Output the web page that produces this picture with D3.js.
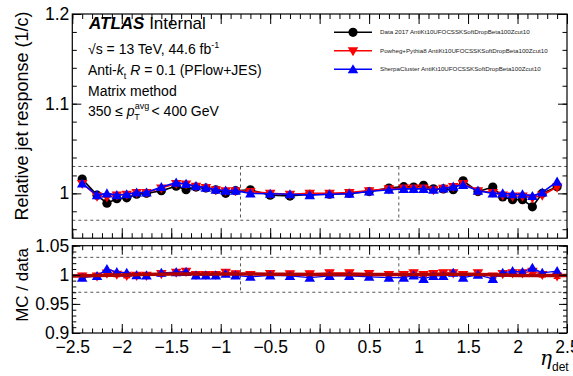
<!DOCTYPE html>
<html>
<head>
<meta charset="utf-8">
<script src="https://cdn.jsdelivr.net/npm/d3@7"></script>
<style>
  body { margin: 0; background: #fff; }
  svg { display: block; font-family: "Liberation Sans", Arial, sans-serif; }
</style>
</head>
<body>
<div id="chart"></div>
<script>
// eta bin centres
const etaBins = [-2.4, -2.25, -2.15, -2.05, -1.95, -1.85, -1.75, -1.6, -1.45, -1.35, -1.25, -1.15, -1.05, -0.95, -0.85, -0.7, -0.5, -0.3, -0.1,
  0.1, 0.3, 0.5, 0.7, 0.85, 0.95, 1.05, 1.15, 1.25, 1.35, 1.45, 1.6, 1.75, 1.85, 1.95, 2.05, 2.15, 2.25, 2.4];

// relative response 1/c
const dataResp = [1.016, 0.998, 0.989, 0.994, 0.995, 0.999, 1.000, 1.003, 1.008, 1.004, 1.007, 1.006, 1.004, 1.000, 1.003, 1.004, 0.998, 0.997, 0.999,
  0.999, 1.000, 1.002, 1.006, 1.0075, 1.007, 1.009, 1.005, 1.005, 1.004, 1.014, 1.002, 1.007, 0.996, 0.993, 0.993, 0.985, 1.000, 1.0075];
const powhegResp = [1.011, 0.997, 0.996, 0.998, 0.999, 1.001, 1.001, 1.006, 1.011, 1.0105, 1.008, 1.0065, 1.004, 1.003, 1.003, 1.002, 1.000, 0.999, 1.000,
  1.000, 1.001, 1.003, 1.005, 1.006, 1.006, 1.006, 1.004, 1.0057, 1.0075, 1.011, 1.003, 1.001, 0.998, 0.997, 0.997, 0.995, 0.998, 1.007];
const sherpaResp = [1.011, 0.998, 1.000, 0.998, 0.999, 1.001, 1.001, 1.007, 1.012, 1.0105, 1.008, 1.0064, 1.004, 1.003, 1.003, 1.000, 0.9995, 0.999, 0.998,
  0.999, 0.9995, 1.002, 1.004, 1.005, 1.005, 1.005, 1.004, 1.0055, 1.0075, 1.0095, 1.003, 1.000, 1.000, 0.999, 0.999, 0.997, 1.001, 1.013];

// MC / data
const powhegRatio = [0.998, 0.998, 1.003, 1.001, 0.999, 0.999, 0.999, 1.002, 1.0045, 1.006, 1.0005, 1.0005, 1.0005, 1.0045, 1.0017, 1.0005, 1.002, 1.0017, 1.0017,
  1.0034, 1.0034, 1.002, 1.0005, 1.0005, 1.0034, 1.0005, 1.002, 1.0034, 1.0034, 1.0005, 1.0034, 0.998, 1.002, 1.0034, 1.0034, 1.006, 1.0005, 0.998];
const powhegRatioErr = 0.004;
const sherpaRatio = [0.995, 0.998, 1.010, 1.0045, 1.0034, 0.9995, 0.999, 1.0034, 1.0045, 1.005, 0.999, 0.999, 0.999, 1.0017, 0.999, 0.9966, 0.999, 0.998, 0.995,
  0.998, 0.998, 0.9966, 0.995, 0.995, 0.999, 0.993, 0.998, 0.998, 1.0034, 0.995, 1.000, 0.993, 1.0034, 1.0063, 1.0045, 1.012, 1.0034, 1.0063];

// smooth fit drawn in the ratio pad
const fitEta = [-2.5, -2, -1.5, -1, -0.5, 0, 0.5, 1, 1.5, 2, 2.5];
const fitRatio = [0.998, 0.9995, 1.0015, 1.0015, 1.001, 1.0005, 1.0005, 1.0005, 1.001, 0.999, 0.999];

const xTicks = [-2.5, -2, -1.5, -1, -0.5, 0, 0.5, 1, 1.5, 2, 2.5];
const mainYTicks = [1, 1.1, 1.2];
const ratioYTicks = [0.9, 0.95, 1, 1.05];

const legendLabels = [
  'Data 2017 AntiKt10UFOCSSKSoftDropBeta100Zcut10',
  'Powheg+Pythia8 AntiKt10UFOCSSKSoftDropBeta100Zcut10',
  'SherpaCluster AntiKt10UFOCSSKSoftDropBeta100Zcut10'
];

const W = 573, H = 376;
const left = 72.3, right = 567;
const svg = d3.select('#chart').append('svg').attr('width', W).attr('height', H);

const x = d3.scaleLinear().domain([-2.5, 2.5]).range([left, right]);
const yMain = d3.scaleLinear().domain([0.95, 1.2]).range([238.2, 14]);
const yRatio = d3.scaleLinear().domain([0.9, 1.05]).range([333, 245.7]);

const fmt = d => (d < 0 ? '\u2212' : '') + Math.abs(d);
const range = (a, b, s) => d3.range(Math.round((b - a) / s) + 1).map(i => +(a + i * s).toFixed(4));

function frame(y, yMajor, yMinor, xMajLen, xMinLen, yMajLen, yMinLen, showX) {
  const [y0, y1] = y.range();
  const g = svg.append('g');
  // bottom + top x ticks (inward)
  const xMinor = range(-2.5, 2.5, 0.1);
  g.append('g').attr('transform', `translate(0,${y0})`)
    .call(d3.axisBottom(x).tickValues(xMinor).tickSize(-xMinLen).tickFormat(''));
  g.append('g').attr('transform', `translate(0,${y0})`)
    .call(d3.axisBottom(x).tickValues(xTicks).tickSize(-xMajLen).tickPadding(8).tickFormat(showX ? fmt : ''));
  g.append('g').attr('transform', `translate(0,${y1})`)
    .call(d3.axisTop(x).tickValues(xMinor).tickSize(-xMinLen).tickFormat(''));
  g.append('g').attr('transform', `translate(0,${y1})`)
    .call(d3.axisTop(x).tickValues(xTicks).tickSize(-xMajLen).tickFormat(''));
  // left + right y ticks
  g.append('g').attr('transform', `translate(${left},0)`)
    .call(d3.axisLeft(y).tickValues(yMinor).tickSize(-yMinLen).tickFormat(''));
  g.append('g').attr('transform', `translate(${left},0)`)
    .call(d3.axisLeft(y).tickValues(yMajor).tickSize(-yMajLen).tickPadding(3).tickFormat(d => d3.format('~g')(d)));
  g.append('g').attr('transform', `translate(${right},0)`)
    .call(d3.axisRight(y).tickValues(yMinor).tickSize(-yMinLen).tickFormat(''));
  g.append('g').attr('transform', `translate(${right},0)`)
    .call(d3.axisRight(y).tickValues(yMajor).tickSize(-yMajLen).tickFormat(''));
  g.selectAll('.domain').remove();
  g.selectAll('.tick line').attr('stroke', '#000').attr('stroke-width', 1);
  g.selectAll('.tick text').attr('fill', '#000').style('font-size', '17.5px')
    .style('font-family', '"Liberation Sans", Arial, sans-serif');
  g.append('rect').attr('x', left).attr('y', y1).attr('width', right - left).attr('height', y0 - y1)
    .attr('fill', 'none').attr('stroke', '#000').attr('stroke-width', 1.2);
  return g;
}

function dashedBox(y) {
  const g = svg.append('g').attr('stroke', '#555').attr('stroke-width', 1).attr('stroke-dasharray', '3,3').attr('fill', 'none');
  [1.03, 0.97].forEach(v => g.append('line').attr('x1', left).attr('x2', right).attr('y1', y(v)).attr('y2', y(v)));
  [-0.8, 0.8].forEach(v => g.append('line').attr('x1', x(v)).attr('x2', x(v)).attr('y1', y(1.03)).attr('y2', y(0.97)));
}

const tri = d3.symbol().type(d3.symbolTriangle).size(48);

function series(y, vals, color, marker, lw) {
  const pts = etaBins.map((e, i) => [e, vals[i]]);
  svg.append('path').datum(pts)
    .attr('d', d3.line().x(d => x(d[0])).y(d => y(d[1])))
    .attr('fill', 'none').attr('stroke', color).attr('stroke-width', lw);
  const g = svg.append('g');
  pts.forEach(p => {
    if (marker === 'circle') {
      g.append('circle').attr('cx', x(p[0])).attr('cy', y(p[1])).attr('r', 4.6).attr('fill', color);
    } else {
      g.append('path').attr('d', tri())
        .attr('transform', `translate(${x(p[0])},${y(p[1]) + (marker === 'down' ? -0.5 : 1)}) rotate(${marker === 'down' ? 180 : 0})`)
        .attr('fill', color);
    }
  });
}

// ---- main pad
dashedBox(yMain);
series(yMain, dataResp, '#000', 'circle', 1.6);
series(yMain, powhegResp, '#ff0000', 'down', 1.6);
series(yMain, sherpaResp, '#0000ff', 'up', 1.6);
frame(yMain, mainYTicks, range(0.96, 1.2, 0.02), 10, 5, 9, 4.5, false);

// ---- ratio pad
dashedBox(yRatio);
// powheg ratio error bars
const eb = svg.append('g').attr('stroke', '#ff0000').attr('stroke-width', 1.5);
etaBins.forEach((e, i) => {
  const ya = yRatio(powhegRatio[i] + powhegRatioErr), yb = yRatio(powhegRatio[i] - powhegRatioErr);
  eb.append('line').attr('x1', x(e)).attr('x2', x(e)).attr('y1', ya).attr('y2', yb);
  eb.append('line').attr('x1', x(e) - 3.5).attr('x2', x(e) + 3.5).attr('y1', ya).attr('y2', ya);
  eb.append('line').attr('x1', x(e) - 3.5).attr('x2', x(e) + 3.5).attr('y1', yb).attr('y2', yb);
});
series(yRatio, powhegRatio, '#ff0000', 'down', 1.2);
series(yRatio, sherpaRatio, '#0000ff', 'up', 1.2);
svg.append('path').datum(fitEta.map((e, i) => [e, fitRatio[i]]))
  .attr('d', d3.line().curve(d3.curveMonotoneX).x(d => x(d[0])).y(d => yRatio(d[1])))
  .attr('fill', 'none').attr('stroke', '#b00000').attr('stroke-width', 3.5);
frame(yRatio, ratioYTicks, range(0.9, 1.05, 0.01), 9, 4.5, 8, 4, true);

// ---- axis titles
svg.append('text').attr('transform', 'translate(28,116) rotate(-90)').attr('text-anchor', 'middle')
  .style('font-size', '18px').text('Relative jet response (1/c)');
svg.append('text').attr('transform', 'translate(28,285) rotate(-90)').attr('text-anchor', 'middle')
  .style('font-size', '17px').text('MC / data');
const xt = svg.append('text').attr('x', 540).attr('y', 365).style('font-size', '20px');
xt.append('tspan').style('font-style', 'italic').style('font-family', '"DejaVu Serif", serif').text('\u03b7');
xt.append('tspan').attr('dy', 6).style('font-size', '12px').text('det');

// ---- labels
const lab = svg.append('g').style('font-size', '14px');
const atl = lab.append('text').attr('x', 89).attr('y', 29).style('font-size', '17px');
atl.append('tspan').style('font-weight', 'bold').style('font-style', 'italic').text('ATLAS');
atl.append('tspan').text(' Internal');
const l1 = lab.append('text').attr('x', 88).attr('y', 54);
l1.append('tspan').text('\u221as = 13 TeV, 44.6 fb');
l1.append('tspan').attr('dy', -6).style('font-size', '9px').text('-1');
const l2 = lab.append('text').attr('x', 88).attr('y', 75);
l2.append('tspan').text('Anti-');
l2.append('tspan').style('font-style', 'italic').text('k');
l2.append('tspan').attr('dy', 4).style('font-size', '9px').text('t');
l2.append('tspan').attr('dy', -4).text(' ');
l2.append('tspan').style('font-style', 'italic').text('R');
l2.append('tspan').text(' = 0.1 (PFlow+JES)');
lab.append('text').attr('x', 88).attr('y', 96).text('Matrix method');
const l4 = lab.append('text').attr('x', 88).attr('y', 116);
l4.append('tspan').text('350 \u2264 ');
l4.append('tspan').style('font-style', 'italic').text('p');
l4.append('tspan').attr('dy', -7).style('font-size', '9px').text('avg');
l4.append('tspan').attr('dx', -15).attr('dy', 11).style('font-size', '9px').text('T');
l4.append('tspan').attr('dx', 8).attr('dy', -4).text(' < 400 GeV');

// ---- legend
const legY = [32.3, 50.7, 69.3];
const legColor = ['#000', '#ff0000', '#0000ff'];
const legMark = ['circle', 'down', 'up'];
const lg = svg.append('g');
legendLabels.forEach((t, i) => {
  lg.append('line').attr('x1', 334).attr('x2', 372).attr('y1', legY[i]).attr('y2', legY[i])
    .attr('stroke', legColor[i]).attr('stroke-width', 1.6);
  if (legMark[i] === 'circle') {
    lg.append('circle').attr('cx', 353).attr('cy', legY[i]).attr('r', 4.6).attr('fill', legColor[i]);
  } else {
    lg.append('path').attr('d', tri())
      .attr('transform', `translate(353,${legY[i] + (legMark[i] === 'down' ? -0.5 : 1)}) rotate(${legMark[i] === 'down' ? 180 : 0})`)
      .attr('fill', legColor[i]);
  }
  lg.append('text').attr('x', 380).attr('y', legY[i] + 2).style('font-size', '6.2px').attr('fill', '#222').text(t);
});
</script>
</body>
</html>
